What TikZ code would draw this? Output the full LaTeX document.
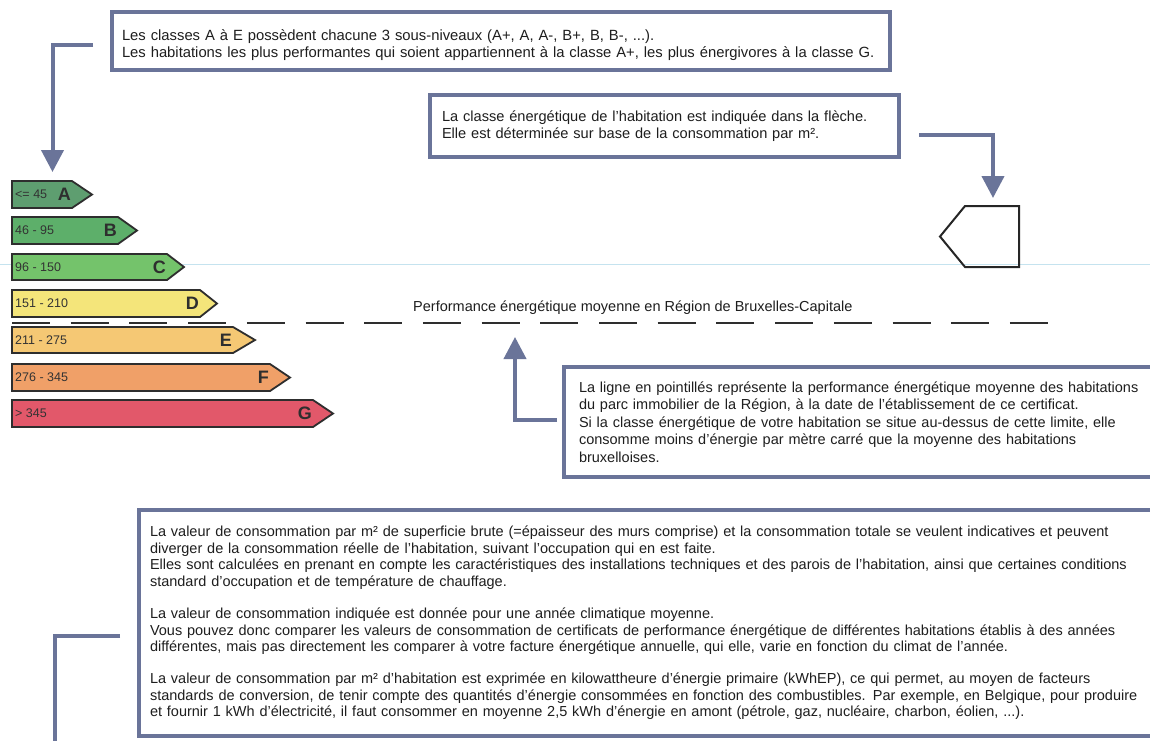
\documentclass[tikz,border=0pt]{standalone}
\usepackage{fontspec}
\setmainfont{Liberation Sans}
\usetikzlibrary{arrows.meta,calc}
\definecolor{frame}{HTML}{6A7499}
\definecolor{txt}{HTML}{1E1E1E}
\definecolor{barline}{HTML}{2E2E2E}
\definecolor{rangecol}{HTML}{333333}
\definecolor{guide}{HTML}{C5E3EF}
\definecolor{cA}{HTML}{5E9E70}
\definecolor{cB}{HTML}{5DAF6A}
\definecolor{cC}{HTML}{74C36B}
\definecolor{cD}{HTML}{F4E57A}
\definecolor{cE}{HTML}{F5C874}
\definecolor{cF}{HTML}{F0A068}
\definecolor{cG}{HTML}{E2586A}
\tikzset{
 boxst/.style={draw=frame, line width=4pt, inner ysep=0pt, anchor=north west, align=left, text=txt},
 conn/.style={draw=frame, line width=4pt, -{Triangle[width=22pt,length=22pt]}},
 connplain/.style={draw=frame, line width=4pt},
 barst/.style={draw=barline, line width=1.8pt, line join=miter},
 rangest/.style={font=\fontsize{12.5}{13}\selectfont, text=rangecol, anchor=west, inner sep=0pt},
 letst/.style={font=\fontsize{18}{18}\selectfont\bfseries, text=barline, anchor=east, inner sep=0pt},
 dashline/.style={draw=barline, line width=2.5pt, dash pattern=on 38pt off 20.7pt},
 pentst/.style={draw=black!85, line width=2pt, line join=miter},
}
\newcommand\enbar[8]{%
 \path[barst, fill=#5] (12,#1) -- (#3,#1) -- (#4,{(#1+#2)/2}) -- (#3,#2) -- (12,#2) -- cycle;
 \node[rangest] (#8r) at (15,{(#1+#2)/2}) {#6};
 \node[letst] (#8l) at ({#3-1},{(#1+#2)/2}) {#7};
}
\begin{document}
\begin{tikzpicture}[x=1pt,y=-1pt]
\useasboundingbox (0,0) rectangle (1150,740);
\fill[white] (0,0) rectangle (1150,740);
% faint guide line
\draw[guide, line width=1pt] (0,264) -- (1150,264);
% energy bars
\enbar{181}{208}{72}{92}{cA}{<= 45}{A}{bA}
\enbar{217}{244}{118}{137}{cB}{46 - 95}{B}{bB}
\enbar{254}{280}{167}{184}{cC}{96 - 150}{C}{bC}
\enbar{290}{317}{200}{217}{cD}{151 - 210}{D}{bD}
\enbar{327}{353}{233}{255}{cE}{211 - 275}{E}{bE}
\enbar{364}{391}{270}{290}{cF}{276 - 345}{F}{bF}
\enbar{400}{427}{313}{333}{cG}{> 345}{G}{bG}
% dashed average line
\coordinate (dstart) at (12,323);
\coordinate (dend) at (1048,323);
\draw[dashline] (dstart) -- (dend);
\node[anchor=west, inner sep=0pt, text=txt, font=\fontsize{14.5}{14.5}\selectfont] (perf) at (413,308) {Performance énergétique moyenne en Région de Bruxelles-Capitale};
% house class pentagon
\coordinate (pL) at (940,236.5);
\coordinate (pTL) at (965,206);
\coordinate (pTR) at (1019,206);
\coordinate (pBR) at (1019,267);
\coordinate (pBL) at (965,267);
\draw[pentst] (pL) -- (pTL) -- (pTR) -- (pBR) -- (pBL) -- cycle;
% boxes
\node[boxst, inner xsep=10pt, minimum width=778pt, minimum height=58pt, text width=758pt,
 font=\fontsize{14.8}{17}\selectfont] (box1) at (110,10)
 {\rule{0pt}{20pt}Les classes A à E possèdent chacune 3 sous-niveaux (A+, A, A-, B+, B, B-, ...).\\
 Les habitations les plus performantes qui soient appartiennent à la classe A+, les plus énergivores à la classe G.};
\node[boxst, inner xsep=12pt, minimum width=469pt, minimum height=62pt, text width=445pt,
 font=\fontsize{14.6}{17}\selectfont] (box2) at (428,93)
 {La classe énergétique de l'habitation est indiquée dans la flèche.\\
 Elle est déterminée sur base de la consommation par m².};
\node[boxst, inner xsep=15pt, minimum width=598pt, minimum height=110pt, text width=568pt,
 font=\fontsize{14.5}{17.5}\selectfont] (box3) at (562,365)
 {La ligne en pointillés représente la performance énergétique moyenne des habitations\\
 du parc immobilier de la Région, à la date de l'établissement de ce certificat.\\
 Si la classe énergétique de votre habitation se situe au-dessus de cette limite, elle\\
 consomme moins d'énergie par mètre carré que la moyenne des habitations\\
 bruxelloises.};
\node[boxst, inner xsep=11pt, minimum width=1023pt, minimum height=226pt, text width=1001pt,
 font=\fontsize{14.5}{16.6}\selectfont] (box4) at (137,508)
 {La valeur de consommation par m² de superficie brute (=épaisseur des murs comprise) et la consommation totale se veulent indicatives et peuvent\\
 diverger de la consommation réelle de l'habitation, suivant l'occupation qui en est faite.\\
 Elles sont calculées en prenant en compte les caractéristiques des installations techniques et des parois de l'habitation, ainsi que certaines conditions\\
 standard d'occupation et de température de chauffage.\\[15.4pt]
 La valeur de consommation indiquée est donnée pour une année climatique moyenne.\\
 Vous pouvez donc comparer les valeurs de consommation de certificats de performance énergétique de différentes habitations établis à des années\\
 différentes, mais pas directement les comparer à votre facture énergétique annuelle, qui elle, varie en fonction du climat de l'année.\\[15.4pt]
 La valeur de consommation par m² d'habitation est exprimée en kilowattheure d'énergie primaire (kWhEP), ce qui permet, au moyen de facteurs\\
 standards de conversion, de tenir compte des quantités d'énergie consommées en fonction des combustibles. Par exemple, en Belgique, pour produire\\
 et fournir 1 kWh d'électricité, il faut consommer en moyenne 2,5 kWh d'énergie en amont (pétrole, gaz, nucléaire, charbon, éolien, ...).};
% connectors
\coordinate (atip) at (52.5,172);
\coordinate (ptip) at (993,198);
\coordinate (dtip) at (515,337);
\coordinate (bend) at (55,750);
\draw[conn] ($(box1.west)+(-17,4)$) -| (atip);
\draw[conn] ($(box2.east)+(18,9)$) -| (ptip);
\draw[conn] ($(box3.west)+(-5,-2)$) -| (dtip);
\draw[connplain] ($(box4.west)+(-17,13)$) -| (bend);
\end{tikzpicture}
\end{document}
